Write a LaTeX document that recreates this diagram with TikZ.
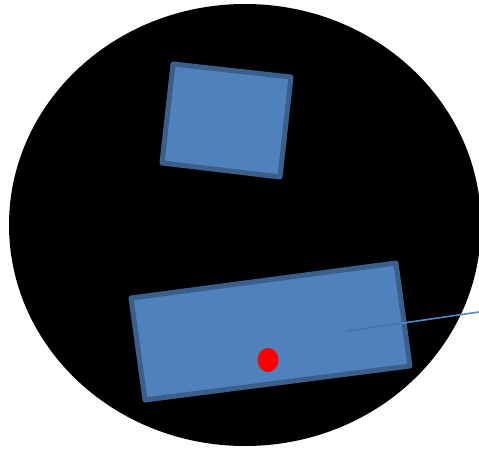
\documentclass[tikz,border=0pt]{standalone}
\usetikzlibrary{calc}
\definecolor{boxfill}{HTML}{4F81BD}
\definecolor{boxline}{HTML}{3A5F8B}
\definecolor{linein}{HTML}{4672AA}
\definecolor{lineout}{HTML}{5587C8}
\tikzset{
  plate/.style={fill=boxfill, draw=boxline, line width=5pt, line join=round},
  lead/.style={line width=1.6pt}
}
\begin{document}
\begin{tikzpicture}[x=1pt,y=-1pt]
\useasboundingbox (0,0) rectangle (479,449);
\fill[black] (245,225) ellipse [x radius=236, y radius=221];
% top plate
\draw[plate] (173,64) -- (291,77) -- (280,177) -- (162,163) -- cycle;
% bottom plate
\draw[plate] (131,298) -- (396,263) -- (410,366) -- (145,400) -- cycle;
% red dot
\fill[red] (268,360) ellipse [x radius=10.5, y radius=12];
% lead line
\coordinate (s) at (347,331);
\coordinate (e) at (402,323.2);
\coordinate (t) at (479,312);
\draw[lead, linein] (s) -- (e);
\draw[lead, lineout] (e) -- (t);
\end{tikzpicture}
\end{document}
